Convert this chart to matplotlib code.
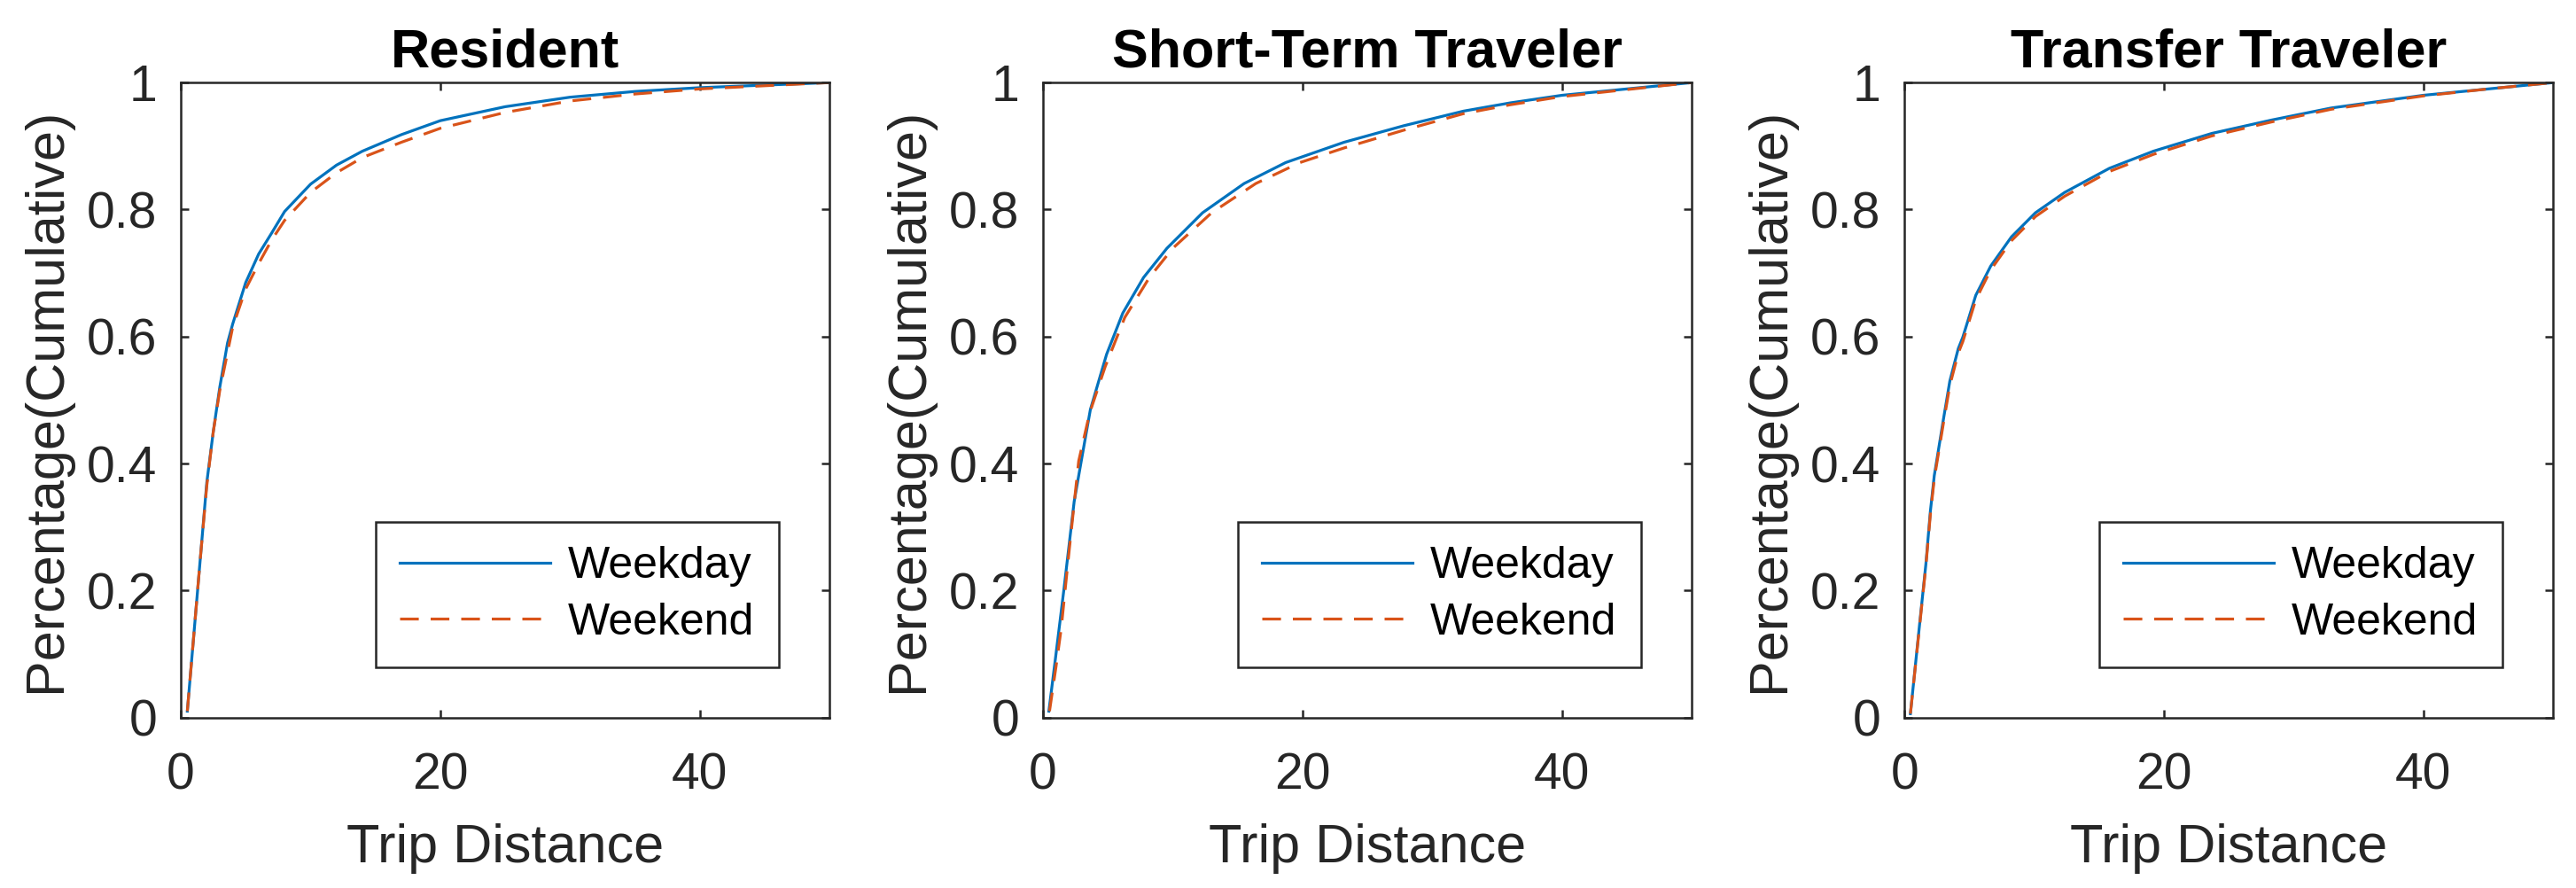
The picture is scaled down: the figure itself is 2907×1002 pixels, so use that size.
import matplotlib
matplotlib.use("Agg")
import matplotlib.pyplot as plt

plt.rcParams['font.family'] = ['Liberation Sans', 'DejaVu Sans']

titles = ["Resident", "Short-Term Traveler", "Transfer Traveler"]
series_names = ["Weekday", "Weekend"]

# Resident
res_wd_x = [0.5, 1.0, 1.5, 2.0, 2.5, 3.0, 3.6, 4.0, 5.0, 6.0, 7.0, 8.0, 10.0, 12.0, 14.0, 17.0, 20.0, 25.0, 30.0, 35.0, 40.0, 45.0, 50.0]
res_wd_y = [0.01, 0.13, 0.25, 0.37, 0.45, 0.52, 0.59, 0.62, 0.685, 0.73, 0.763, 0.797, 0.84, 0.87, 0.892, 0.918, 0.94, 0.962, 0.977, 0.986, 0.992, 0.996, 1.0]
res_we_x = [0.5, 1.0, 1.5, 2.0, 2.5, 3.0, 4.0, 5.0, 6.0, 7.0, 8.0, 10.0, 12.0, 14.0, 17.0, 20.0, 25.0, 30.0, 35.0, 40.0, 45.0, 50.0]
res_we_y = [0.01, 0.13, 0.25, 0.365, 0.45, 0.515, 0.615, 0.675, 0.715, 0.752, 0.783, 0.827, 0.858, 0.882, 0.906, 0.928, 0.953, 0.971, 0.982, 0.99, 0.995, 1.0]

# Short-term traveler
st_wd_x = [0.45, 1.0, 1.6, 2.4, 3.0, 3.65, 4.9, 6.15, 7.75, 9.55, 12.3, 15.5, 18.7, 23.2, 27.8, 32.4, 36.0, 40.0, 45.0, 50.0]
st_wd_y = [0.01, 0.10, 0.20, 0.34, 0.41, 0.485, 0.572, 0.637, 0.693, 0.739, 0.795, 0.841, 0.874, 0.906, 0.932, 0.955, 0.968, 0.98, 0.99, 1.0]
st_we_x = [0.5, 1.0, 1.4, 2.0, 2.75, 3.6, 4.8, 6.3, 8.2, 10.0, 13.0, 16.4, 19.8, 23.2, 27.8, 32.4, 36.0, 40.0, 45.0, 50.0]
st_we_y = [0.01, 0.08, 0.14, 0.26, 0.404, 0.48, 0.553, 0.63, 0.693, 0.739, 0.795, 0.841, 0.874, 0.897, 0.925, 0.951, 0.965, 0.978, 0.989, 1.0]

# Transfer traveler
tr_x = [0.46, 1.2, 1.65, 2.0, 2.3, 3.0, 3.5, 4.15, 4.5, 5.5, 6.65, 8.25, 10.1, 12.35, 15.8, 19.2, 23.7, 28.3, 32.9, 40.0, 45.0, 50.0]
tr_wd_y = [0.006, 0.153, 0.241, 0.325, 0.381, 0.469, 0.53, 0.581, 0.599, 0.665, 0.711, 0.757, 0.795, 0.827, 0.865, 0.892, 0.92, 0.941, 0.96, 0.98, 0.99, 1.0]
tr_we_y = [0.006, 0.15, 0.238, 0.32, 0.376, 0.463, 0.523, 0.574, 0.592, 0.658, 0.705, 0.751, 0.789, 0.821, 0.86, 0.887, 0.916, 0.938, 0.958, 0.979, 0.99, 1.0]

panels = [
    (res_wd_x, res_wd_y, res_we_x, res_we_y),
    (st_wd_x, st_wd_y, st_we_x, st_we_y),
    (tr_x, tr_wd_y, tr_x, tr_we_y),
]

xticks = [0, 20, 40]
yticks = [0, 0.2, 0.4, 0.6, 0.8, 1.0]
ytick_labels = ["0", "0.2", "0.4", "0.6", "0.8", "1"]

blue = "#0072BD"
orange = "#D95319"
dark = "#262626"

fig = plt.figure(figsize=(14.535, 5.01), dpi=200)
lefts = [0.0702, 0.4049, 0.7393]

for i, (wx, wy, ex, ey) in enumerate(panels):
    ax = fig.add_axes([lefts[i], 0.192, 0.2518, 0.715])
    ax.plot(wx, wy, color=blue, lw=1.15, label=series_names[0])
    ax.plot(ex, ey, color=orange, lw=1.15, dashes=(6.6, 4.2), label=series_names[1])
    ax.set_xlim(0, 50)
    ax.set_ylim(0, 1)
    ax.set_xticks(xticks)
    ax.set_yticks(yticks)
    ax.set_yticklabels(ytick_labels)
    ax.tick_params(direction='in', top=True, right=True, length=3.2, width=0.9,
                   color=dark, labelcolor=dark, labelsize=20.5)
    ax.tick_params(axis='x', pad=14.0)
    ax.tick_params(axis='y', pad=9.7)
    for sp in ax.spines.values():
        sp.set_linewidth(0.9)
        sp.set_color(dark)
    ax.set_xlabel("Trip Distance", fontsize=22, color=dark, labelpad=9.5)
    ax.set_ylabel("Percentage(Cumulative)", fontsize=22, color=dark, labelpad=6.0)
    ax.set_title(titles[i], fontsize=22, fontweight='bold', pad=6.5)
    leg = ax.legend(loc='lower right', bbox_to_anchor=(0.922, 0.079), borderaxespad=0,
                    fontsize=18, handlelength=3.4, handletextpad=0.4, borderpad=0.55,
                    labelspacing=0.35, fancybox=False, framealpha=1, edgecolor=dark)
    leg.get_frame().set_linewidth(0.9)

fig.savefig("out.png", dpi=200)
